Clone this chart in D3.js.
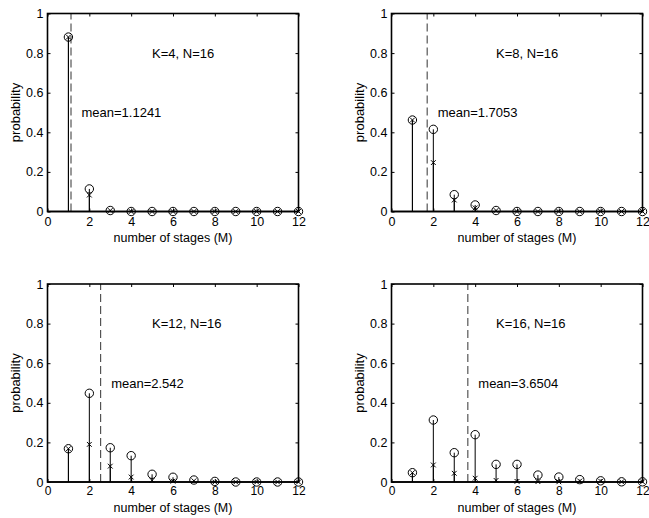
<!DOCTYPE html>
<html>
<head>
<meta charset="utf-8">
<script src="https://cdn.jsdelivr.net/npm/d3@7"></script>
<style>
  html, body { margin: 0; padding: 0; background: #fff; }
  svg { display: block; font-family: "Liberation Sans", Arial, Helvetica, sans-serif; }
</style>
</head>
<body>
<svg id="chart" width="649" height="518"></svg>
<script>
// Number of stages on the x axis
const stages = [1, 2, 3, 4, 5, 6, 7, 8, 9, 10, 11, 12];

// Probability per stage count ("o" markers) for each K
const probK4  = [0.881, 0.114, 0.005, 0, 0, 0, 0, 0, 0, 0, 0, 0];
const probK8  = [0.462, 0.415, 0.085, 0.033, 0.005, 0, 0, 0, 0, 0, 0, 0];
const probK12 = [0.168, 0.448, 0.173, 0.133, 0.039, 0.024, 0.01, 0.003, 0, 0, 0, 0];
const probK16 = [0.047, 0.313, 0.148, 0.239, 0.089, 0.089, 0.035, 0.025, 0.012, 0.006, 0.001, 0.001];

// Second estimate ("x" markers) for each K
const crossK4  = [0.881, 0.083, 0.005, 0, 0, 0, 0, 0, 0, 0, 0, 0];
const crossK8  = [0.462, 0.247, 0.058, 0.018, 0.005, 0, 0, 0, 0, 0, 0, 0];
const crossK12 = [0.168, 0.19, 0.08, 0.025, 0.008, 0.004, 0.006, 0, 0, 0, 0, 0];
const crossK16 = [0.047, 0.086, 0.044, 0.019, 0.008, 0.003, 0.002, 0.001, 0.005, 0.004, 0.001, 0.001];

// Means drawn as dashed vertical lines
const means = [1.1241, 1.7053, 2.542, 3.6504];
const meanLabels = ["mean=1.1241", "mean=1.7053", "mean=2.542", "mean=3.6504"];
const panelTitles = ["K=4, N=16", "K=8, N=16", "K=12, N=16", "K=16, N=16"];

// Axis ticks
const xTicks = [0, 2, 4, 6, 8, 10, 12];
const yTicks = [0, 0.2, 0.4, 0.6, 0.8, 1];
const xLabel = "number of stages (M)";
const yLabel = "probability";

const circleSeries = [probK4, probK8, probK12, probK16];
const crossSeries = [crossK4, crossK8, crossK12, crossK16];

// Panel frames: left, top, tick-label padding, x tick font size, x-title baseline offset
const panelW = 251, panelH = 198;
const frames = [
  [47.5, 13.5, 5.5, 12.5, 30.5],
  [391.5, 13.5, 5.5, 12.5, 30.5],
  [47.5, 284, 4, 12, 30],
  [391.5, 284, 4, 12, 30]
];

const svg = d3.select("#chart");

frames.forEach(([left, top, pad, xFont, titleOff], i) => {
  const g = svg.append("g").attr("transform", `translate(${left},${top})`);
  const x = d3.scaleLinear().domain([0, 12]).range([0, panelW]);
  const y = d3.scaleLinear().domain([0, 1]).range([panelH, 0]);
  const tickLen = 3;

  // Bottom and left axes with labels, ticks pointing inward
  const xAxis = g.append("g").attr("transform", `translate(0,${panelH})`)
    .call(d3.axisBottom(x).tickValues(xTicks).tickFormat(d3.format("d"))
      .tickSizeInner(-tickLen).tickSizeOuter(0).tickPadding(pad));
  const yAxis = g.append("g")
    .call(d3.axisLeft(y).tickValues(yTicks)
      .tickFormat(d => d === 0 || d === 1 ? d3.format("d")(d) : d3.format(".1f")(d))
      .tickSizeInner(-tickLen).tickSizeOuter(0).tickPadding(4));
  // Mirrored ticks on top and right
  const xTop = g.append("g")
    .call(d3.axisTop(x).tickValues(xTicks).tickFormat("").tickSizeInner(-tickLen).tickSizeOuter(0));
  const yRight = g.append("g").attr("transform", `translate(${panelW},0)`)
    .call(d3.axisRight(y).tickValues(yTicks).tickFormat("").tickSizeInner(-tickLen).tickSizeOuter(0));

  [xAxis, yAxis, xTop, yRight].forEach(a => {
    a.select(".domain").remove();
    a.selectAll("line").attr("stroke", "#000");
    a.selectAll("text").attr("fill", "#000").style("font-size", "12.5px");
  });
  xAxis.selectAll("text").style("font-size", xFont + "px");

  const circ = circleSeries[i];
  const cros = crossSeries[i];

  // Stems for both series
  g.append("g").selectAll("line").data(stages).join("line")
    .attr("x1", d => x(d)).attr("x2", d => x(d))
    .attr("y1", y(0)).attr("y2", (d, j) => y(circ[j]))
    .attr("stroke", "#000").attr("stroke-width", 1);
  g.append("g").selectAll("line").data(stages).join("line")
    .attr("x1", d => x(d)).attr("x2", d => x(d))
    .attr("y1", y(0)).attr("y2", (d, j) => y(cros[j]))
    .attr("stroke", "#000").attr("stroke-width", 1);

  // Dashed mean line
  g.append("line")
    .attr("x1", x(means[i])).attr("x2", x(means[i]))
    .attr("y1", y(0)).attr("y2", y(1))
    .attr("stroke", "#333").attr("stroke-width", 1)
    .attr("stroke-dasharray", "8,4");

  // Baseline and frame
  g.append("line").attr("x1", 0).attr("x2", panelW).attr("y1", y(0)).attr("y2", y(0))
    .attr("stroke", "#000").attr("stroke-width", 1.5);
  g.append("rect").attr("x", 0).attr("y", 0).attr("width", panelW).attr("height", panelH)
    .attr("fill", "none").attr("stroke", "#000").attr("stroke-width", 1.6);

  // "o" markers
  g.append("g").selectAll("circle").data(stages).join("circle")
    .attr("cx", d => x(d)).attr("cy", (d, j) => y(circ[j]))
    .attr("r", 4.2).attr("fill", "none").attr("stroke", "#000").attr("stroke-width", 1);

  // "x" markers
  const s = 2.4;
  g.append("g").selectAll("path").data(stages).join("path")
    .attr("d", (d, j) => {
      const cx = x(d), cy = y(cros[j]);
      return `M${cx - s},${cy - s}L${cx + s},${cy + s}M${cx - s},${cy + s}L${cx + s},${cy - s}`;
    })
    .attr("fill", "none").attr("stroke", "#000").attr("stroke-width", 1);

  // Annotations
  g.append("text").attr("x", x(5)).attr("y", y(0.8)).attr("dy", "0.35em")
    .style("font-size", "13px").attr("fill", "#000").text(panelTitles[i]);
  g.append("text").attr("x", x(means[i] + 0.5)).attr("y", y(0.5)).attr("dy", "0.35em")
    .style("font-size", "13px").attr("fill", "#000").text(meanLabels[i]);

  // Axis titles
  g.append("text").attr("x", panelW / 2).attr("y", panelH + titleOff)
    .attr("text-anchor", "middle").style("font-size", "12.5px").attr("fill", "#000").text(xLabel);
  g.append("text").attr("transform", `translate(-28,${panelH / 2}) rotate(-90)`)
    .attr("text-anchor", "middle").style("font-size", "13px").attr("fill", "#000").text(yLabel);
});
</script>
</body>
</html>
